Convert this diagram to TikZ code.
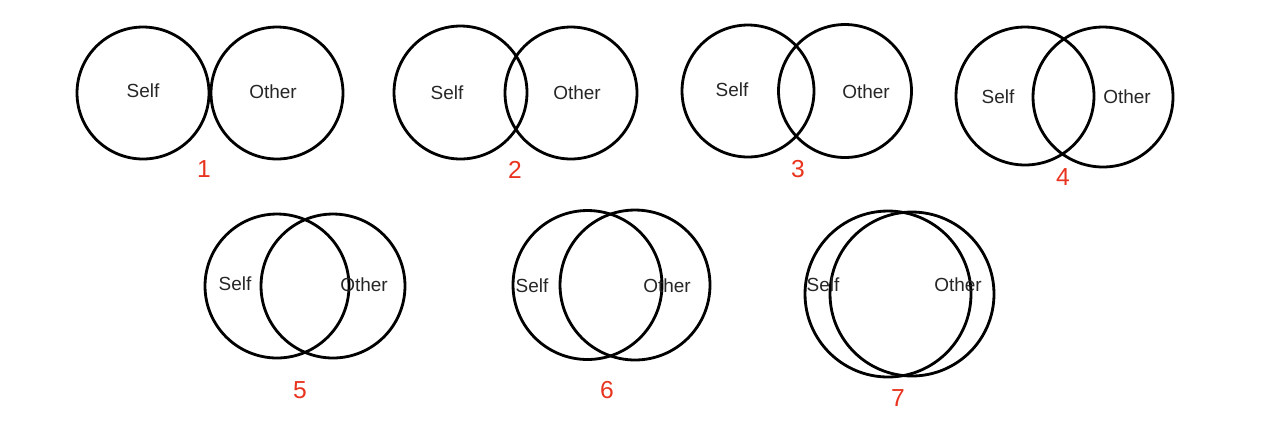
\documentclass[tikz,border=0pt]{standalone}
\usepackage{fontspec}
\setmainfont{Liberation Sans}
\usepackage{xcolor}
\usepackage{tikz}
\definecolor{numred}{RGB}{232,52,30}
\begin{document}
\begin{tikzpicture}[
  x=0.02cm,y=-0.02cm,
  ring/.style={draw,circle,line width=1.6pt,inner sep=0pt},
  who/.style={font=\fontsize{10.8}{12}\selectfont,text=black!85,inner sep=0pt},
  num/.style={font=\fontsize{14}{16}\selectfont,text=numred,inner sep=0pt}
]
\useasboundingbox (0,0) rectangle (1280,424);
% 1
\node[ring,minimum size=2.64cm] (self1) at (143,93) {};
\node[ring,minimum size=2.64cm] (other1) at (277,93) {};
\node[who] (selfA) at (143,91) {Self};
\node[who] (otherA) at (273,92) {Other};
\node[num] (n1) at (204,169) {1};
% 2
\node[ring,minimum size=2.66cm] (self2) at (460.5,92.5) {};
\node[ring,minimum size=2.64cm] (other2) at (571,93) {};
\node[who] (selfB) at (447,93) {Self};
\node[who] (otherB) at (577,93) {Other};
\node[num] (n2) at (515,170) {2};
% 3
\node[ring,minimum size=2.64cm] (self3) at (748,91) {};
\node[ring,minimum size=2.66cm] (other3) at (845,91) {};
\node[who] (selfC) at (732,90) {Self};
\node[who] (otherC) at (866,92) {Other};
\node[num] (n3) at (798,169) {3};
% 4
\node[ring,minimum size=2.76cm] (self4) at (1025,96) {};
\node[ring,minimum size=2.80cm] (other4) at (1103,97) {};
\node[who] (selfD) at (998,97) {Self};
\node[who] (otherD) at (1127,97) {Other};
\node[num] (n4) at (1063,177) {4};
% 5
\node[ring,minimum size=2.88cm] (self5) at (277,286) {};
\node[ring,minimum size=2.88cm] (other5) at (333,286) {};
\node[who] (selfE) at (235,284) {Self};
\node[who] (otherE) at (364,285) {Other};
\node[num] (n5) at (300,390) {5};
% 6
\node[ring,minimum size=2.98cm] (self6) at (587.5,285) {};
\node[ring,minimum size=3.00cm] (other6) at (635,285) {};
\node[who] (selfF) at (532,286) {Self};
\node[who] (otherF) at (667,286) {Other};
\node[num] (n6) at (607,390) {6};
% 7
\node[ring,minimum size=3.32cm] (self7) at (888,294) {};
\node[ring,minimum size=3.28cm] (other7) at (912,294) {};
\node[who] (selfG) at (823,285) {Self};
\node[who] (otherG) at (958,285) {Other};
\node[num] (n7) at (898,398) {7};
\end{tikzpicture}
\end{document}
